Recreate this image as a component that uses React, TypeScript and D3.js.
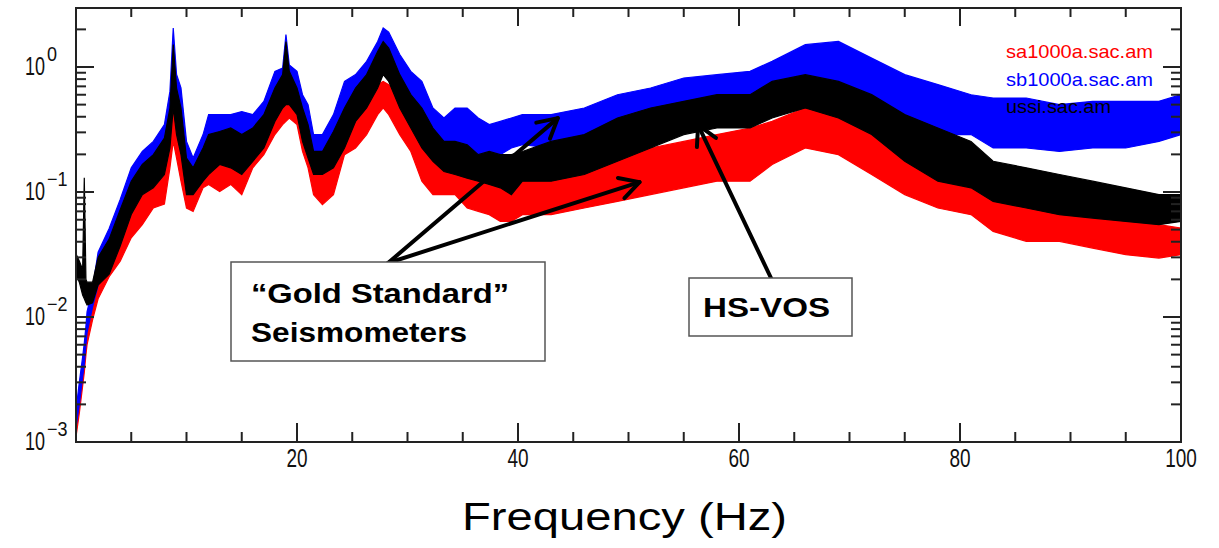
import React from 'react';
import * as d3 from 'd3';

// Frequency grid (Hz) shared by all three spectra
const freq = [
  0, 0.3, 0.6, 0.75, 0.9, 1,
  1.5, 2, 3, 4, 5, 6, 7, 8,
  8.5, 8.8, 9.1, 9.5, 10, 10.6,
  11.5, 12, 13, 14, 15, 16, 17, 18,
  18.7, 19, 19.3, 20, 20.5, 21, 21.5, 22.3,
  23.3, 24.3, 25.3, 26.3, 27.3, 27.8, 28.3, 29.3,
  30.3, 31.3, 32.3, 33.3, 34.3, 35.4, 36.4, 37.4,
  38.4, 39.4, 40.4, 43, 46, 49, 52, 55,
  58, 61, 63, 66, 69, 72, 75, 78,
  81, 83, 86, 89, 92, 95, 98, 100,
];

// sb1000a.sac.am (blue) lower / upper envelope
const sbHi = [
  0.0018, 0.003, 0.0048, 0.0062, 0.0085, 0.011,
  0.017, 0.033, 0.051, 0.087, 0.156, 0.211, 0.254, 0.346,
  0.638, 2.05, 0.87, 0.68, 0.254, 0.187,
  0.288, 0.416, 0.416, 0.416, 0.44, 0.416, 0.531, 0.923,
  0.98, 1.82, 1.04, 0.923, 0.6, 0.5, 0.288, 0.288,
  0.416, 0.767, 0.869, 1.11, 1.6, 2.05, 1.9, 1.26,
  0.923, 0.767, 0.47, 0.391, 0.47, 0.47, 0.391, 0.346,
  0.367, 0.391, 0.416, 0.416, 0.47, 0.6, 0.679, 0.817,
  0.869, 0.923, 1.11, 1.51, 1.6, 1.18, 0.869, 0.723,
  0.6, 0.565, 0.565, 0.5, 0.531, 0.531, 0.531, 0.6,
];
const sbLo = [
  0.0013, 0.002, 0.0033, 0.0042, 0.006, 0.0075,
  0.012, 0.018, 0.028, 0.046, 0.079, 0.115, 0.138, 0.187,
  0.288, 0.64, 0.39, 0.288, 0.138, 0.108,
  0.176, 0.199, 0.225, 0.225, 0.199, 0.225, 0.288, 0.47,
  0.565, 0.638, 0.6, 0.47, 0.305, 0.225, 0.166, 0.156,
  0.225, 0.416, 0.47, 0.679, 0.869, 1.18, 1.04, 0.6,
  0.47, 0.367, 0.254, 0.225, 0.211, 0.225, 0.199, 0.199,
  0.199, 0.225, 0.239, 0.225, 0.254, 0.288, 0.346, 0.416,
  0.416, 0.47, 0.6, 0.723, 0.679, 0.47, 0.391, 0.288,
  0.288, 0.225, 0.225, 0.211, 0.225, 0.225, 0.254, 0.288,
];

// ussi.sac.am (black) lower / upper envelope
const ussiHi = [
  0.032, 0.028, 0.024, 0.13, 0.02, 0.019,
  0.019, 0.03, 0.042, 0.072, 0.122, 0.166, 0.199, 0.27,
  0.47, 1.51, 0.679, 0.47, 0.187, 0.156,
  0.225, 0.288, 0.305, 0.325, 0.288, 0.325, 0.416, 0.679,
  0.869, 1.6, 0.923, 0.679, 0.47, 0.346, 0.211, 0.211,
  0.305, 0.47, 0.679, 0.869, 1.33, 1.6, 1.42, 0.869,
  0.601, 0.47, 0.325, 0.254, 0.254, 0.239, 0.199, 0.211,
  0.199, 0.199, 0.211, 0.254, 0.288, 0.391, 0.47, 0.531,
  0.601, 0.601, 0.767, 0.869, 0.767, 0.601, 0.416, 0.325,
  0.254, 0.176, 0.156, 0.138, 0.122, 0.108, 0.0953, 0.0953,
];
const ussiLo = [
  0.022, 0.019, 0.015, 0.014, 0.013, 0.0125,
  0.013, 0.018, 0.022, 0.037, 0.066, 0.0953, 0.108, 0.138,
  0.225, 0.47, 0.288, 0.199, 0.0953, 0.0953,
  0.122, 0.138, 0.166, 0.156, 0.138, 0.176, 0.225, 0.367,
  0.47, 0.5, 0.5, 0.416, 0.254, 0.187, 0.138, 0.138,
  0.156, 0.225, 0.367, 0.47, 0.679, 0.869, 0.767, 0.47,
  0.325, 0.225, 0.176, 0.146, 0.138, 0.129, 0.122, 0.115,
  0.108, 0.0953, 0.122, 0.122, 0.138, 0.176, 0.225, 0.288,
  0.325, 0.325, 0.391, 0.47, 0.391, 0.288, 0.176, 0.122,
  0.108, 0.0841, 0.0745, 0.0659, 0.0619, 0.0582, 0.0548, 0.0582,
];

// sa1000a.sac.am (red) lower / upper envelope
const saHi = [
  0.0015, 0.0024, 0.004, 0.0052, 0.0072, 0.009,
  0.014, 0.022, 0.034, 0.052, 0.082, 0.108, 0.138, 0.187,
  0.346, 0.679, 0.47, 0.288, 0.122, 0.122,
  0.166, 0.199, 0.225, 0.225, 0.211, 0.254, 0.325, 0.5,
  0.531, 0.601, 0.531, 0.5, 0.391, 0.254, 0.156, 0.138,
  0.176, 0.391, 0.391, 0.601, 0.723, 0.767, 0.723, 0.565,
  0.47, 0.288, 0.225, 0.199, 0.176, 0.156, 0.138, 0.138,
  0.122, 0.122, 0.122, 0.146, 0.146, 0.187, 0.225, 0.254,
  0.288, 0.325, 0.367, 0.47, 0.416, 0.325, 0.225, 0.199,
  0.156, 0.108, 0.0953, 0.0745, 0.0659, 0.0582, 0.0548, 0.0515,
];
const saLo = [
  0.0011, 0.0017, 0.0028, 0.0036, 0.005, 0.006,
  0.0095, 0.014, 0.021, 0.028, 0.043, 0.0548, 0.0745, 0.08,
  0.156, 0.254, 0.187, 0.122, 0.0745, 0.07,
  0.108, 0.115, 0.101, 0.115, 0.0953, 0.156, 0.199, 0.288,
  0.346, 0.367, 0.391, 0.346, 0.211, 0.156, 0.0953, 0.0793,
  0.0953, 0.199, 0.225, 0.288, 0.416, 0.47, 0.416, 0.288,
  0.211, 0.122, 0.0953, 0.0953, 0.0953, 0.0745, 0.07, 0.0659,
  0.0582, 0.0582, 0.0659, 0.0659, 0.0745, 0.0841, 0.0953, 0.108,
  0.122, 0.122, 0.166, 0.225, 0.199, 0.138, 0.0953, 0.0745,
  0.0659, 0.0484, 0.0403, 0.0403, 0.0356, 0.0315, 0.0296, 0.0315,
];

const xMajorTicks = [20, 40, 60, 80, 100];
const xTickLabels = ['20', '40', '60', '80', '100'];
const yDecades = [0.001, 0.01, 0.1, 1];
const yExponents = ['\u22123', '\u22122', '\u22121', '0'];
const legendLabels = ['sa1000a.sac.am', 'sb1000a.sac.am', 'ussi.sac.am'];
const legendColors = ['#ff0000', '#0000ff', '#000000'];
const xTitle = 'Frequency (Hz)';
const noteGold = ['\u201CGold Standard\u201D', 'Seismometers'];
const noteVos = 'HS-VOS';
// arrow tips in data coordinates [Hz, amplitude]
const goldTips = [[43.6, 0.39], [51.0, 0.12]];
const vosTip = [56.3, 0.343];

const W = 1219, H = 548;
const L = 76, R = 1181, T = 8, B = 442;

function arrowHead(x0: number, y0: number, x1: number, y1: number, len = 22, ang = 0.5) {
  const a = Math.atan2(y0 - y1, x0 - x1);
  const p1 = [x1 + len * Math.cos(a + ang), y1 + len * Math.sin(a + ang)];
  const p2 = [x1 + len * Math.cos(a - ang), y1 + len * Math.sin(a - ang)];
  return `M${p1[0]},${p1[1]}L${x1},${y1}L${p2[0]},${p2[1]}`;
}

export default function App() {
  const x = d3.scaleLinear().domain([0, 100]).range([L, R]);
  const y = d3.scaleLog().domain([0.001, 2.965]).range([B, T]);

  const band = (lo: number[], hi: number[]) =>
    d3.area<number>()
      .x((_, i) => x(freq[i]))
      .y0((_, i) => y(lo[i]))
      .y1((_, i) => y(hi[i]))(freq) || '';

  const series = [
    { lo: saLo, hi: saHi, color: legendColors[0] },
    { lo: sbLo, hi: sbHi, color: legendColors[1] },
    { lo: ussiLo, hi: ussiHi, color: legendColors[2] },
  ];

  const xMinor = d3.range(5, 100, 5).filter((v) => v % 20 !== 0);
  const yMinor: number[] = [];
  yDecades.forEach((d) => {
    for (let k = 2; k <= 9; k++) if (k * d <= 2.965) yMinor.push(k * d);
  });

  const axisColor = '#222';
  const tickFont = 'Liberation Sans, Arial, sans-serif';
  const origin = [388, 263];
  const vosOrigin = [771, 278];

  return (
    <svg width={W} height={H} style={{ position: 'absolute', left: 0, top: 0, background: '#fff' }}>
      <defs>
        <clipPath id="plot">
          <rect x={L} y={T} width={R - L} height={B - T} />
        </clipPath>
      </defs>
      <g clipPath="url(#plot)">
        {series.map((s, i) => (
          <path key={i} d={band(s.lo, s.hi)} fill={s.color} stroke={s.color} strokeWidth={1.2} />
        ))}
      </g>

      {/* legend */}
      {legendLabels.map((t, i) => (
        <text key={t} x={1006} y={58 + i * 27.5} fill={legendColors[i]} fontFamily={tickFont}
          fontSize={19} textLength={i < 2 ? 147 : 105} lengthAdjust="spacingAndGlyphs">{t}</text>
      ))}

      {/* frame */}
      <rect x={L} y={T} width={R - L} height={B - T} fill="none" stroke={axisColor} strokeWidth={2} />

      {/* x ticks bottom and top */}
      {xMajorTicks.map((v) => (
        <g key={'xm' + v} stroke={axisColor} strokeWidth={2}>
          <line x1={x(v)} x2={x(v)} y1={B} y2={B - 19} />
          <line x1={x(v)} x2={x(v)} y1={T} y2={T + 18} />
        </g>
      ))}
      {xMinor.map((v) => (
        <g key={'xn' + v} stroke={axisColor} strokeWidth={2}>
          <line x1={x(v)} x2={x(v)} y1={B} y2={B - 10} />
          <line x1={x(v)} x2={x(v)} y1={T} y2={T + 9} />
        </g>
      ))}
      {xMajorTicks.map((v, i) => (
        <text key={'xl' + v} transform={`translate(${x(v)},467) scale(0.73,1)`} textAnchor="middle"
          fontFamily={tickFont} fontSize={26} fill="#111">{xTickLabels[i]}</text>
      ))}

      {/* y ticks left and right */}
      {yDecades.map((v) => (
        <g key={'ym' + v} stroke={axisColor} strokeWidth={2}>
          <line x1={L} x2={L + 18} y1={y(v)} y2={y(v)} />
          <line x1={R} x2={R - 18} y1={y(v)} y2={y(v)} />
        </g>
      ))}
      {yMinor.map((v) => (
        <g key={'yn' + v} stroke={axisColor} strokeWidth={2}>
          <line x1={L} x2={L + 10} y1={y(v)} y2={y(v)} />
          <line x1={R} x2={R - 10} y1={y(v)} y2={y(v)} />
        </g>
      ))}
      {yDecades.map((v, i) => (
        <g key={'yl' + v} fill="#111" fontFamily={tickFont}>
          <text transform={`translate(25,${y(v) + 8}) scale(0.72,1)`} fontSize={25}>10</text>
          <text transform={`translate(47,${y(v) - 6}) scale(0.9,1)`} fontSize={20}>{yExponents[i]}</text>
        </g>
      ))}

      {/* x title */}
      <text x={462} y={530} fontFamily="Liberation Sans, Arial, sans-serif" fontSize={39} fill="#000"
        textLength={325} lengthAdjust="spacingAndGlyphs">{xTitle}</text>

      {/* annotations */}
      <g stroke="#000" strokeWidth={4} fill="none" strokeLinecap="round" strokeLinejoin="round">
        {goldTips.map((t, i) => {
          const tx = x(t[0]), ty = y(t[1]);
          return (
            <g key={'ga' + i}>
              <line x1={origin[0]} y1={origin[1]} x2={tx} y2={ty} />
              <path d={arrowHead(origin[0], origin[1], tx, ty)} />
            </g>
          );
        })}
        <line x1={vosOrigin[0]} y1={vosOrigin[1]} x2={x(vosTip[0])} y2={y(vosTip[1])} />
        <path d={arrowHead(vosOrigin[0], vosOrigin[1], x(vosTip[0]), y(vosTip[1]))} />
      </g>

      <rect x={231} y={262} width={314} height={99} fill="#fff" stroke="#555" strokeWidth={1.5} />
      <text x={251} y={303} fontFamily="Liberation Sans, Arial, sans-serif" fontWeight="bold" fontSize={28}
        textLength={258} lengthAdjust="spacingAndGlyphs">{noteGold[0]}</text>
      <text x={251} y={342} fontFamily="Liberation Sans, Arial, sans-serif" fontWeight="bold" fontSize={28}
        textLength={216} lengthAdjust="spacingAndGlyphs">{noteGold[1]}</text>

      <rect x={689} y={278} width={163} height={58} fill="#fff" stroke="#555" strokeWidth={1.5} />
      <text x={703} y={317} fontFamily="Liberation Sans, Arial, sans-serif" fontWeight="bold" fontSize={28}
        textLength={127} lengthAdjust="spacingAndGlyphs">{noteVos}</text>
    </svg>
  );
}
